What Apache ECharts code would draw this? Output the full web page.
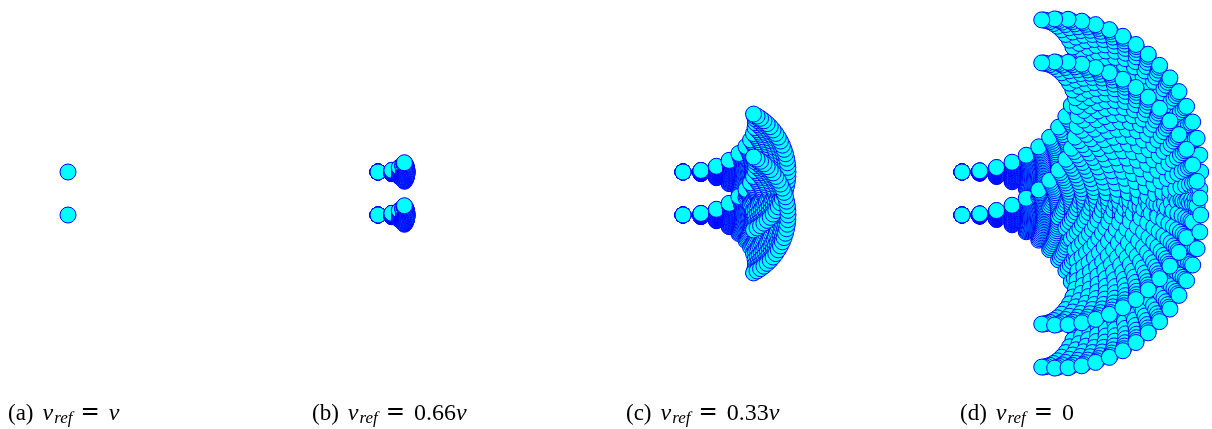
<!DOCTYPE html>
<html>
<head>
<meta charset="utf-8">
<script src="https://cdn.jsdelivr.net/npm/echarts@6/dist/echarts.min.js"></script>
<style>
html,body{margin:0;padding:0;background:#fff;}
#chart{width:1212px;height:429px;}
</style>
</head>
<body>
<div id="chart"></div>
<script>
// ---- data ----
const captionTags = ['(a)', '(b)', '(c)', '(d)'];
const vRefLabels = ['v', '0.66v', '0.33v', '0'];
// lateral offset of the two agents (data units)
const agentLateral = [21.5, -21.5];
// distance travelled per time step along a trajectory, per panel
const stepsA = [];
const stepsB = [14, 8, 4, 2, 1];
const stepsC = [18, 16, 14, 12, 10, 8, 7, 6, 5, 4, 3, 2];
const stepsD = [17.8, 17.1, 16.4, 15.8, 15.1, 14.4, 13.7, 13.0, 12.3, 11.7, 11.0, 10.3,
                9.6, 8.9, 8.2, 7.6, 6.9, 6.2, 5.5, 4.8, 4.1, 3.4, 2.8, 2.1];
// largest total heading change reached by the extreme controls (degrees)
const maxTurnDeg = [0, 70, 120, 180];
// number of sampled controls per agent
const controlCount = 33;

// ---- layout ----
const panelStartPx = [68, 378, 683, 962];
const captionLeft = [8, 312, 626, 960];
const X_MIN = -50, X_MAX = 250, Y_MIN = -190, Y_MAX = 190;

const allSteps = [stepsA, stepsB, stepsC, stepsD];

function buildPoints(steps, maxDeg) {
  const N = steps.length;
  const M = maxDeg > 0 ? controlCount : 1;
  const maxRad = maxDeg * Math.PI / 180;
  const traj = [];
  for (let a = 0; a < agentLateral.length; a++) {
    const row = [];
    for (let j = 0; j < M; j++) {
      const phi = M > 1 ? -maxRad + 2 * maxRad * j / (M - 1) : 0;
      let x = 0, y = agentLateral[a];
      const pts = [[x, y]];
      for (let k = 0; k < N; k++) {
        const th = phi * (k + 0.5) / N;
        x += steps[k] * Math.cos(th);
        y += steps[k] * Math.sin(th);
        pts.push([x, y]);
      }
      row.push(pts);
    }
    traj.push(row);
  }
  const out = [];
  for (let k = 0; k <= N; k++) {
    for (let a = 0; a < traj.length; a++) {
      for (let j = 0; j < traj[a].length; j++) {
        out.push(traj[a][j][k]);
      }
    }
  }
  return out;
}

function captionText(p) {
  const v = vRefLabels[p];
  let rhs;
  if (/[a-z]$/.test(v)) {
    rhs = (v.length > 1 ? '{n|' + v.slice(0, -1) + '}' : '') + '{i|' + v.slice(-1) + '}';
  } else {
    rhs = '{n|' + v + '}';
  }
  return '{tag|' + captionTags[p] + '}{i|v}{s|ref}{eq|=}' + rhs;
}

const grids = [], xAxes = [], yAxes = [], series = [], titles = [];
const FS = 23;
for (let p = 0; p < 4; p++) {
  grids.push({
    left: panelStartPx[p] + X_MIN,
    top: 193.5 - Y_MAX,
    width: X_MAX - X_MIN,
    height: Y_MAX - Y_MIN,
    show: false
  });
  xAxes.push({type: 'value', gridIndex: p, min: X_MIN, max: X_MAX, show: false});
  yAxes.push({type: 'value', gridIndex: p, min: Y_MIN, max: Y_MAX, show: false});
  series.push({
    type: 'scatter',
    xAxisIndex: p,
    yAxisIndex: p,
    data: buildPoints(allSteps[p], maxTurnDeg[p]),
    symbol: 'circle',
    symbolSize: 16,
    large: false,
    progressive: 0,
    silent: true,
    itemStyle: {color: '#00FFFF', borderColor: '#0000FF', borderWidth: 1, opacity: 1}
  });
  titles.push({
    left: captionLeft[p],
    top: 400,
    padding: 0,
    text: captionText(p),
    textStyle: {
      fontFamily: 'Liberation Serif',
      fontSize: FS,
      fontWeight: 'normal',
      color: '#000',
      rich: {
        tag: {fontFamily: 'Liberation Serif', fontSize: FS, color: '#000', padding: [0, 9, 0, 0]},
        i: {fontFamily: 'Liberation Serif', fontStyle: 'italic', fontSize: FS + 1, color: '#000'},
        s: {fontFamily: 'Liberation Serif', fontStyle: 'italic', fontSize: 17, color: '#000', padding: [10, 0, 0, 1]},
        eq: {fontFamily: 'DejaVu Sans', fontSize: FS, color: '#000', padding: [0, 9, 0, 8]},
        n: {fontFamily: 'Liberation Serif', fontSize: FS + 1, color: '#000'}
      }
    }
  });
}

const chart = echarts.init(document.getElementById('chart'), null, {renderer: 'canvas'});
chart.setOption({
  animation: false,
  backgroundColor: '#fff',
  title: titles,
  grid: grids,
  xAxis: xAxes,
  yAxis: yAxes,
  series: series
});
</script>
</body>
</html>
